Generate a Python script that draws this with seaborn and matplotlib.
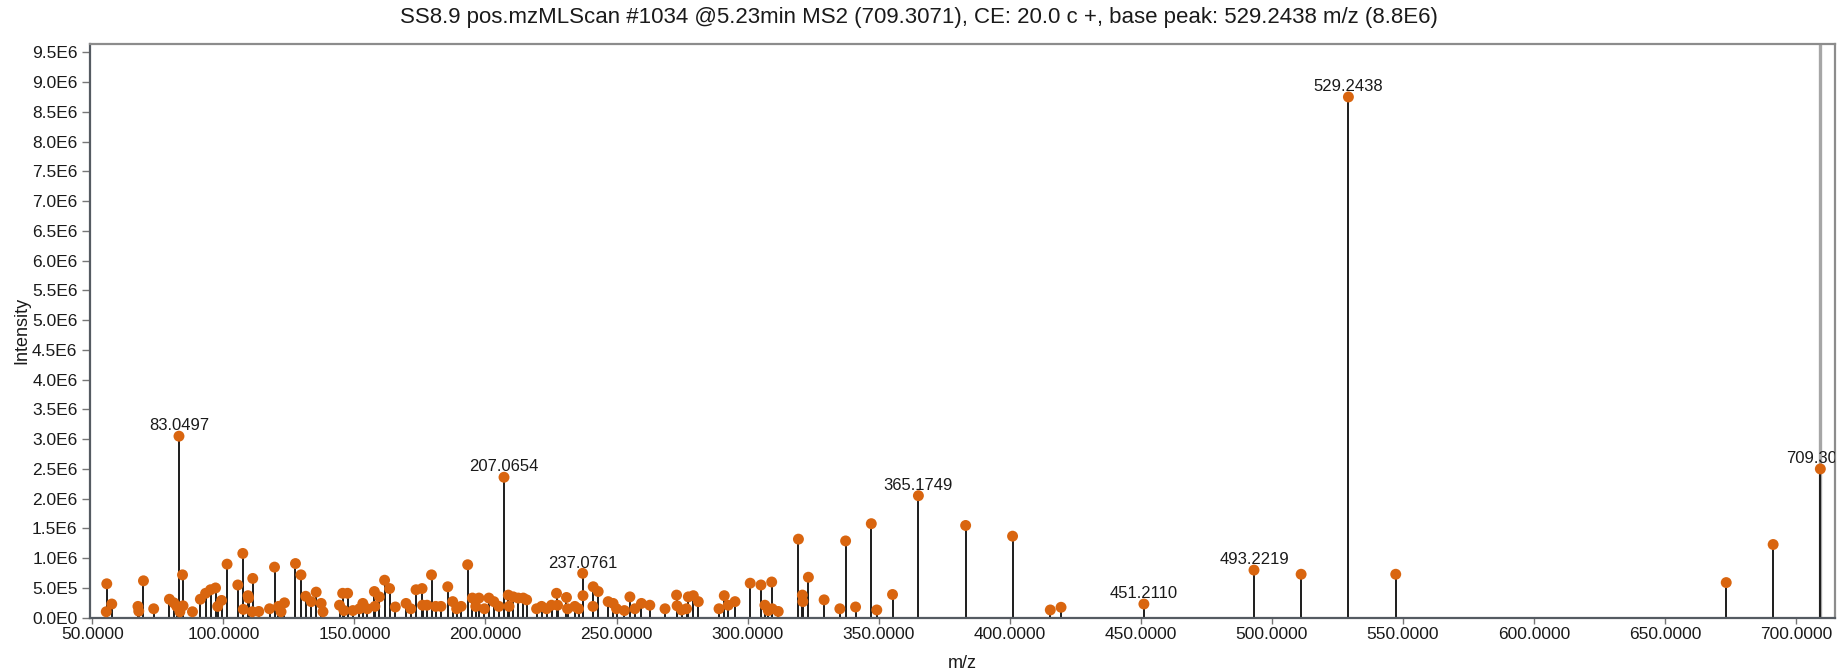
import numpy as np
import pandas as pd
import matplotlib
matplotlib.use("Agg")
import matplotlib.pyplot as plt
from matplotlib.ticker import FuncFormatter, MultipleLocator
import seaborn as sns

# ---------------- data ----------------
mz_values = [
    55.3, 55.5, 57.4, 67.4, 67.7, 69.5, 73.4, 79.4, 81.1, 82.2,
    83.0497, 83.4, 84.4, 84.6, 88.2, 91.2, 93.2, 95.1, 97.0, 97.8,
    99.3, 101.4, 105.5, 107.4, 107.6, 109.4, 109.6, 111.0, 111.2, 113.5,
    117.6, 119.5, 121.0, 122.0, 123.3, 127.5, 129.6, 131.4, 133.5, 135.4,
    137.3, 138.0, 144.3, 145.5, 146.0, 147.4, 149.4, 151.9, 153.2, 154.9,
    157.6, 157.8, 159.5, 161.5, 163.4, 165.6, 169.7, 171.5, 173.5, 175.8,
    176.0, 177.7, 179.4, 181.0, 183.0, 185.6, 187.5, 189.0, 190.7, 193.2,
    195.0, 196.3, 197.5, 199.6, 201.3, 203.2, 205.1, 207.0654, 208.7, 209.0,
    210.6, 212.5, 214.4, 215.7, 219.5, 221.4, 223.3, 225.2, 227.1, 227.5,
    230.9, 231.3, 234.1, 235.5, 237.0761, 237.2, 241.0, 241.1, 243.0, 246.8,
    248.7, 250.0, 253.0, 255.1, 257.0, 259.5, 262.7, 268.5, 272.9, 273.1,
    274.8, 276.7, 277.4, 279.3, 281.2, 289.1, 291.1, 292.6, 295.2, 301.0,
    305.1, 306.6, 307.9, 309.2, 309.4, 311.7, 319.4, 320.9, 321.1, 323.2,
    329.2, 335.2, 337.4, 341.2, 347.2, 349.3, 355.3, 365.1749, 383.2, 401.1,
    415.5, 419.6, 451.2110, 493.2219, 511.2, 529.2438, 547.3, 673.4, 691.3, 709.3071,
]
intensity_values = [
    1.0e5, 5.7e5, 2.3e5, 1.9e5, 1.1e5, 6.2e5, 1.5e5, 3.1e5, 2.5e5, 1.9e5,
    3.05e6, 1.0e5, 7.2e5, 2.0e5, 1.0e5, 3.1e5, 4.1e5, 4.7e5, 5.0e5, 1.9e5,
    2.9e5, 9.0e5, 5.5e5, 1.08e6, 1.4e5, 3.7e5, 3.3e5, 1.0e5, 6.6e5, 1.05e5,
    1.5e5, 8.5e5, 1.9e5, 1.0e5, 2.5e5, 9.1e5, 7.2e5, 3.6e5, 2.7e5, 4.3e5,
    2.4e5, 1.0e5, 2.1e5, 4.1e5, 1.2e5, 4.1e5, 1.2e5, 1.5e5, 2.4e5, 1.5e5,
    4.4e5, 1.9e5, 3.5e5, 6.3e5, 4.9e5, 1.8e5, 2.4e5, 1.5e5, 4.7e5, 4.9e5,
    2.1e5, 2.1e5, 7.2e5, 1.9e5, 1.9e5, 5.2e5, 2.7e5, 1.5e5, 1.9e5, 8.9e5,
    3.3e5, 1.9e5, 3.3e5, 1.5e5, 3.3e5, 2.7e5, 1.9e5, 2.36e6, 3.8e5, 1.9e5,
    3.5e5, 3.3e5, 3.3e5, 3.0e5, 1.5e5, 1.9e5, 1.5e5, 2.1e5, 4.1e5, 2.1e5,
    3.4e5, 1.5e5, 1.9e5, 1.5e5, 7.46e5, 3.7e5, 1.9e5, 5.2e5, 4.4e5, 2.7e5,
    2.4e5, 1.5e5, 1.2e5, 3.5e5, 1.5e5, 2.4e5, 2.1e5, 1.5e5, 3.8e5, 2.0e5,
    1.3e5, 1.5e5, 3.5e5, 3.7e5, 2.7e5, 1.5e5, 3.7e5, 2.1e5, 2.7e5, 5.8e5,
    5.5e5, 2.1e5, 1.2e5, 6.0e5, 1.5e5, 1.05e5, 1.32e6, 3.8e5, 2.7e5, 6.8e5,
    3.0e5, 1.5e5, 1.29e6, 1.8e5, 1.58e6, 1.3e5, 3.9e5, 2.05e6, 1.55e6, 1.37e6,
    1.3e5, 1.75e5, 2.3e5, 8.0e5, 7.3e5, 8.75e6, 7.3e5, 5.9e5, 1.23e6, 2.5e6,
]
labeled_mz = [83.0497, 207.0654, 237.0761, 365.1749, 451.2110, 493.2219, 529.2438, 709.3071]
precursor_mz = 709.3071
title_text = "SS8.9 pos.mzMLScan #1034 @5.23min MS2 (709.3071), CE: 20.0 c +, base peak: 529.2438 m/z (8.8E6)"

df = pd.DataFrame({"mz": mz_values, "intensity": intensity_values})

# ---------------- style ----------------
sns.set_style("white")
plt.rcParams["font.family"] = ["Liberation Sans", "DejaVu Sans"]

W, H = 1838, 672
fig = plt.figure(figsize=(W / 100, H / 100), dpi=100)
left, right, top, bottom = 90, 1835, 44, 617.7
ax = fig.add_axes([left / W, 1 - bottom / H, (right - left) / W, (bottom - top) / H])

ax.set_xlim(49.1, 714.9)
ax.set_ylim(0, 9.64e6)

# precursor marker line
ax.axvline(precursor_mz, color="#a6a6a6", lw=2.4, zorder=1)

# stems
ax.vlines(df["mz"], 0, df["intensity"], color="#1c1c1c", lw=1.4, zorder=2)

# peak tops
sns.scatterplot(data=df, x="mz", y="intensity", ax=ax, color="#D9650F",
                s=62, edgecolor="none", linewidth=0, zorder=3, clip_on=False,
                legend=False)

# peak labels
for m in labeled_mz:
    idx = int(np.argmin(np.abs(df["mz"].values - m)))
    inten = df["intensity"].values[idx]
    ax.annotate(f"{m:.4f}", (m, inten), xytext=(0, 2), textcoords="offset points",
                ha="center", va="bottom", fontsize=12, color="#1a1a1a",
                annotation_clip=False, clip_on=True)

# axes formatting
def sci_fmt(v, pos):
    if abs(v) < 1e-9:
        return "0.0E0"
    e = int(np.floor(np.log10(abs(v))))
    m = v / 10 ** e
    if round(m, 1) >= 10:
        m /= 10
        e += 1
    return f"{m:.1f}E{e}"

ax.yaxis.set_major_locator(MultipleLocator(5e5))
ax.yaxis.set_major_formatter(FuncFormatter(sci_fmt))
ax.xaxis.set_major_locator(MultipleLocator(50))
ax.xaxis.set_major_formatter(FuncFormatter(lambda v, p: f"{v:.4f}"))

ax.tick_params(axis="y", which="major", direction="out", length=6, width=1,
               color="#777777", labelsize=12.5, pad=3, left=True)
ax.tick_params(axis="x", which="major", direction="out", length=4, width=1,
               color="#777777", labelsize=12.5, pad=3, bottom=True)
for lab in ax.get_xticklabels() + ax.get_yticklabels():
    lab.set_color("#1a1a1a")

for side in ["left", "bottom"]:
    ax.spines[side].set_color("#555b62")
    ax.spines[side].set_linewidth(1.6)
for side in ["top", "right"]:
    ax.spines[side].set_color("#8c8c8c")
    ax.spines[side].set_linewidth(1.6)

ax.set_xlabel("m/z", fontsize=13, color="#1a1a1a", labelpad=9)
ax.set_ylabel("Intensity", fontsize=13, color="#1a1a1a", labelpad=1)

fig.text(0.5, 1 - 18 / H, title_text, ha="center", va="center", fontsize=16, color="#1a1a1a")

fig.savefig("out.png", dpi=100, facecolor="white")
